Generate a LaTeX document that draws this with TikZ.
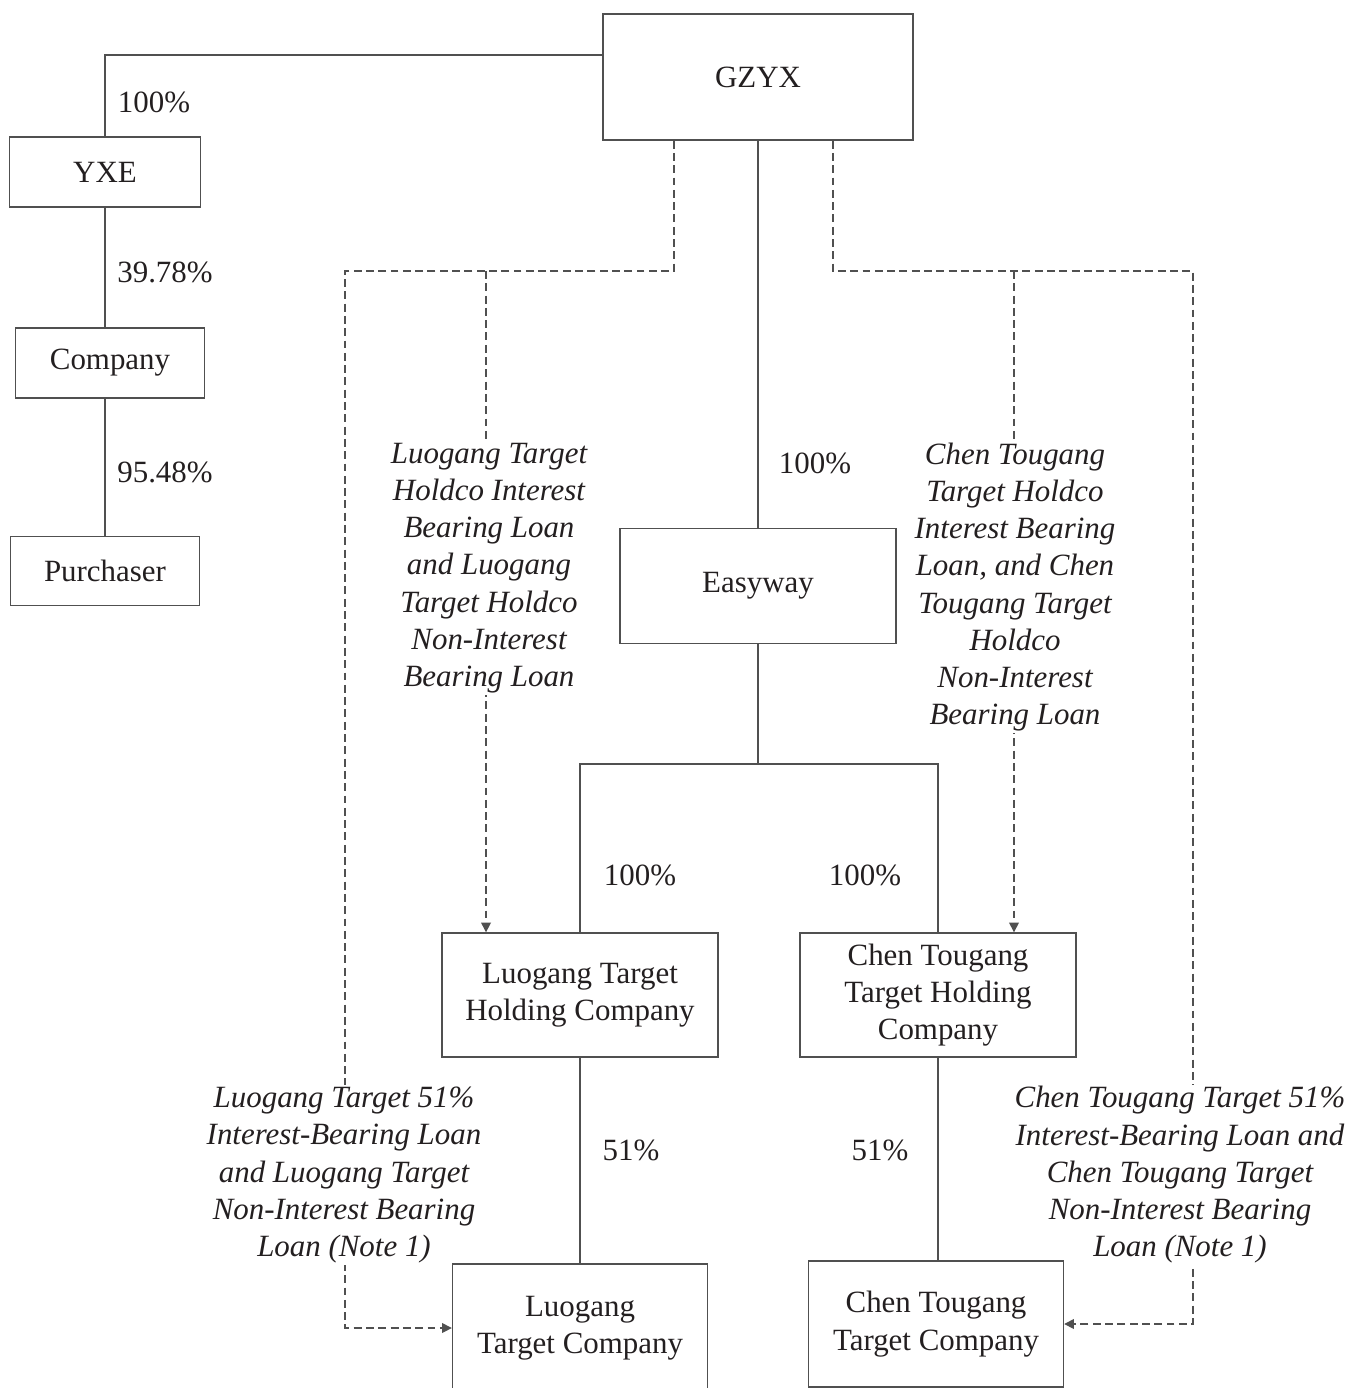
\documentclass[tikz,border=0pt]{standalone}
\usepackage{fontspec}
\setmainfont{Liberation Serif}
\usetikzlibrary{positioning,arrows.meta,backgrounds}
\definecolor{inkgray}{HTML}{231F20}
\definecolor{linegray}{HTML}{505050}
\newcommand{\entityfont}{\fontsize{17.6}{21.2}\selectfont}
\newcommand{\loanfont}{\fontsize{17.6}{21.2}\selectfont\itshape}
\tikzset{
  entity/.style={rectangle, draw=linegray, line width=0.8pt, text=inkgray, align=center, inner sep=2pt, font=\entityfont},
  own/.style={draw=linegray, line width=0.8pt},
  loan/.style={draw=linegray, line width=0.8pt, dash pattern=on 4.5pt off 2.5pt,
               -{Triangle[length=5.5pt,width=5.5pt]}},
  loanlabel/.style={fill=white, align=center, text=inkgray, inner sep=1pt, font=\loanfont},
  pct/.style={text=inkgray, inner sep=0pt, font=\entityfont},
}

\begin{document}
\begin{tikzpicture}[x=0.02cm, y=-0.02cm]
  \useasboundingbox (0,0) rectangle (1350,1388);
  \clip (0,0) rectangle (1350,1388);

  % loan labels (white, over the dashed lines)
  \node[loanlabel] (luoholdloan) at (489,568) {Luogang Target\\Holdco Interest\\Bearing Loan\\and Luogang\\Target Holdco\\Non-Interest\\Bearing Loan};
  \node[loanlabel] (chenholdloan) at (1015,587) {Chen Tougang\\Target Holdco\\Interest Bearing\\Loan, and Chen\\Tougang Target\\Holdco\\Non-Interest\\Bearing Loan};
  \node[loanlabel] (luotargetloan) at (344,1175) {Luogang Target 51\%\\Interest-Bearing Loan\\and Luogang Target\\Non-Interest Bearing\\Loan (Note 1)};
  \node[loanlabel] (chentargetloan) at (1180,1175) {Chen Tougang Target 51\%\\Interest-Bearing Loan and\\Chen Tougang Target\\Non-Interest Bearing\\Loan (Note 1)};

  % companies
  \node[entity, minimum width=6.2cm, minimum height=2.52cm] (gzyx) at (758,77) {GZYX};
  \node[entity, minimum width=3.82cm, minimum height=1.4cm] (yxe) at (105,172) {YXE};
  \node[entity, minimum width=3.78cm, minimum height=1.4cm] (company) at (110,363) {Company};
  \node[entity, minimum width=3.78cm, minimum height=1.38cm] (purchaser) at (105,571) {Purchaser};
  \node[entity, minimum width=5.52cm, minimum height=2.3cm] (easyway) at (758,586) {Easyway};
  \node[entity, minimum width=5.52cm, minimum height=2.48cm] (luoholding) at (580,995) {Luogang Target\\Holding Company};
  \node[entity, minimum width=5.52cm, minimum height=2.48cm] (chenholding) at (938,995) {Chen Tougang\\Target Holding\\Company};
  \node[entity, minimum width=5.1cm, minimum height=2.56cm] (luotarget) at (580,1328) {Luogang\\Target Company};
  \node[entity, minimum width=5.1cm, minimum height=2.52cm] (chentarget) at (936,1324) {Chen Tougang\\Target Company};

  % shareholdings
  \coordinate (split) at (758,764);
  \draw[own] ([yshift=0.44cm]gzyx.west) -| (yxe.north);
  \draw[own] (yxe.south) -- (yxe.south |- company.north);
  \draw[own] (yxe.south |- company.south) -- (yxe.south |- purchaser.north);
  \draw[own] (gzyx) -- (easyway);
  \draw[own] (easyway.south) -- (split);
  \draw[own] (luoholding.north) |- (split) -| (chenholding.north);
  \draw[own] (luoholding) -- (luotarget);
  \draw[own] (chenholding.south) -- (chenholding.south |- chentarget.north);

  % loans
  \begin{scope}[on background layer]
    \coordinate (lbus) at (345,271);
    \coordinate (rbus) at (1193,271);
    \draw[loan] ([xshift=-1.68cm]gzyx.south) |- (lbus) |- (luotarget.west);
    \draw[loan] ([xshift=-1.88cm]luoholding.north |- lbus) -- ([xshift=-1.88cm]luoholding.north);
    \draw[loan] ([xshift=1.5cm]gzyx.south) |- (rbus) |- (chentarget.east);
    \draw[loan] ([xshift=1.52cm]chenholding.north |- rbus) -- ([xshift=1.52cm]chenholding.north);
  \end{scope}

  % percentages
  \node[pct] (pctyxe) at (154,102) {100\%};
  \node[pct] (pctcompany) at (165,272) {39.78\%};
  \node[pct] (pctpurchaser) at (165,472) {95.48\%};
  \node[pct] (pcteasyway) at (815,463) {100\%};
  \node[pct] (pctluohold) at (640,875) {100\%};
  \node[pct] (pctchenhold) at (865,875) {100\%};
  \node[pct] (pctluotarget) at (631,1150) {51\%};
  \node[pct] (pctchentarget) at (880,1150) {51\%};
\end{tikzpicture}
\end{document}
